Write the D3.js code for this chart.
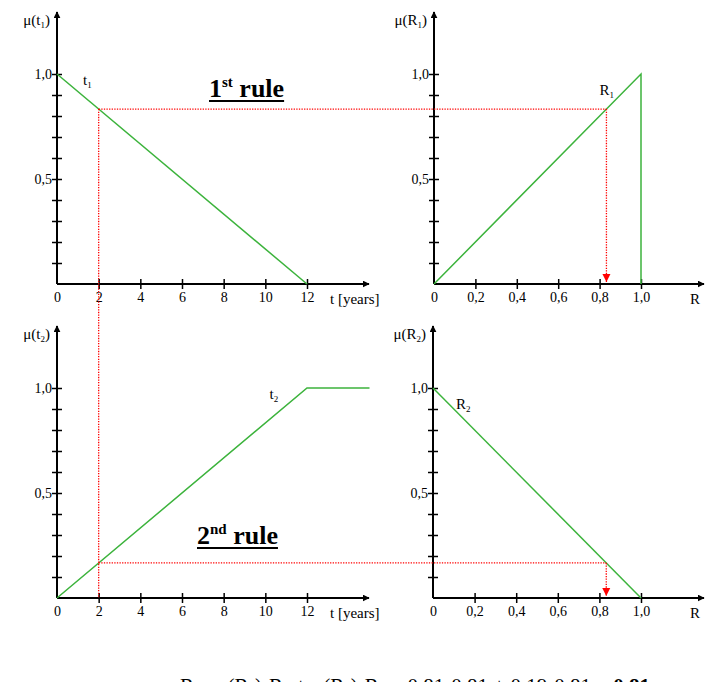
<!DOCTYPE html>
<html>
<head>
<meta charset="utf-8">
<script src="https://cdn.jsdelivr.net/npm/d3@7"></script>
<style>
  body { margin: 0; background: #fff; }
  text { font-family: "Liberation Serif", "Times New Roman", serif; fill: #000; }
</style>
</head>
<body>
<div id="container"></div>
<script>
// fuzzy rule diagram: two rules, t in years -> R

// tick values + labels
var tTicks = [0, 2, 4, 6, 8, 10, 12];
var rTicks = [0, 0.2, 0.4, 0.6, 0.8, 1.0];
var rTickLabels = ["0", "0,2", "0,4", "0,6", "0,8", "1,0"];
var muTicks = [0.1, 0.2, 0.3, 0.4, 0.5, 0.6, 0.7, 0.8, 0.9, 1.0];
var muLabels = {0.5: "0,5", 1.0: "1,0"};

// membership functions (x, mu)
var t1Line = [[0, 1], [12, 0]];
var r1Line = [[0, 0], [1, 1], [1, 0]];
var t2Line = [[0, 0], [12, 1], [15, 1]];
var r2Line = [[0, 1], [1, 0]];

// the evaluated point
var tInput = 2;
var mu1 = 0.833, mu2 = 0.167;
var rOut = 0.833;

var svg = d3.select("#container").append("svg")
    .attr("width", 715)
    .attr("height", 682);

// arrowheads
var defs = svg.append("defs");
defs.append("marker").attr("id", "blk")
    .attr("viewBox", "0 0 10 10").attr("refX", 9).attr("refY", 5)
    .attr("markerWidth", 7).attr("markerHeight", 7).attr("markerUnits", "userSpaceOnUse")
    .attr("orient", "auto")
  .append("path").attr("d", "M0,0L10,5L0,10z").attr("fill", "#000");
defs.append("marker").attr("id", "red")
    .attr("viewBox", "0 0 10 10").attr("refX", 10).attr("refY", 5)
    .attr("markerWidth", 8).attr("markerHeight", 9).attr("markerUnits", "userSpaceOnUse")
    .attr("orient", "auto")
  .append("path").attr("d", "M0,0L10,5L0,10z").attr("fill", "red");

// panels
var panels = [
  {x0: 57, x1: 307, xEnd: 369, y0: 284, y1: 74, yTop: 12, dom: [0, 12], kind: "t", ylab: "1"},
  {x0: 434, x1: 641, xEnd: 704, y0: 284, y1: 74, yTop: 12, dom: [0, 1], kind: "R", ylab: "1"},
  {x0: 57, x1: 307, xEnd: 369, y0: 598, y1: 388, yTop: 326, dom: [0, 12], kind: "t", ylab: "2"},
  {x0: 433, x1: 641, xEnd: 704, y0: 598, y1: 388, yTop: 326, dom: [0, 1], kind: "R", ylab: "2"}
];

panels.forEach(function(p) {
  p.x = d3.scaleLinear().domain(p.dom).range([p.x0, p.x1]);
  p.y = d3.scaleLinear().domain([0, 1]).range([p.y0, p.y1]);

  var g = svg.append("g");

  // x axis
  var xa = d3.axisBottom(p.x)
      .tickValues(p.kind == "t" ? tTicks : rTicks)
      .tickFormat(function(d, i) { return p.kind == "t" ? d : rTickLabels[i]; })
      .tickSize(5).tickSizeOuter(0);
  var gx = g.append("g")
      .attr("transform", "translate(0," + p.y0 + ")")
      .call(xa);
  gx.attr("font-size", 14).attr("font-family", null);
  gx.select(".domain").remove();
  gx.selectAll(".tick line").attr("y1", -5).attr("stroke", "#000").attr("stroke-width", 1.5);
  gx.selectAll(".tick").filter(function(d) { return d == 0; }).select("line").remove();
  gx.selectAll(".tick text")
      .attr("y", 8).attr("dy", "0.71em");

  g.append("line")
      .attr("x1", p.x0).attr("x2", p.xEnd)
      .attr("y1", p.y0).attr("y2", p.y0)
      .attr("stroke", "#000").attr("stroke-width", 2)
      .attr("marker-end", "url(#blk)");

  // y axis
  var ya = d3.axisLeft(p.y)
      .tickValues(muTicks)
      .tickFormat(function(d) { return muLabels[d] || ""; })
      .tickSize(5).tickSizeOuter(0);
  var gy = g.append("g")
      .attr("transform", "translate(" + p.x0 + ",0)")
      .call(ya);
  gy.attr("font-size", 14).attr("font-family", null);
  gy.select(".domain").remove();
  gy.selectAll(".tick line").attr("x2", 5).attr("x1", -5).attr("stroke", "#000").attr("stroke-width", 1.5);
  gy.selectAll(".tick text").attr("x", -5);
  g.append("line")
      .attr("x1", p.x0).attr("x2", p.x0)
      .attr("y1", p.y0).attr("y2", p.yTop)
      .attr("stroke", "#000").attr("stroke-width", 2)
      .attr("marker-end", "url(#blk)");

  // axis titles
  var yt = g.append("text")
      .attr("x", p.x0 - 7).attr("y", p.yTop + 13)
      .attr("text-anchor", "end")
      .style("font-size", "15px");
  yt.append("tspan").text("\u03bc(" + (p.kind == "t" ? "t" : "R"));
  yt.append("tspan").attr("font-size", "9px").attr("dy", 3).text(p.ylab);
  yt.append("tspan").attr("dy", -3).text(")");

  if (p.kind == "t") {
    g.append("text").attr("x", p.xEnd - 39).attr("y", p.y0 + 20)
        .style("font-size", "15px").text("t [years]");
  } else {
    g.append("text").attr("x", p.xEnd - 9).attr("y", p.y0 + 20)
        .attr("text-anchor", "middle")
        .style("font-size", "15px").text("R");
  }
});

var line = function(p) {
  return d3.line().x(function(d) { return p.x(d[0]); }).y(function(d) { return p.y(d[1]); });
};

var green = "#3cb33c";
[[panels[0], t1Line], [panels[1], r1Line], [panels[2], t2Line], [panels[3], r2Line]].forEach(function(a) {
  svg.append("path")
      .attr("d", line(a[0])(a[1]))
      .attr("fill", "none")
      .attr("stroke", green)
      .attr("stroke-width", 1.5);
});

// curve labels
function curveLabel(x, y, base, sub) {
  var t = svg.append("text").attr("x", x).attr("y", y).style("font-size", "15px");
  t.append("tspan").text(base);
  t.append("tspan").attr("font-size", "9px").attr("dy", 3).text(sub);
}
curveLabel(panels[0].x(1.25), panels[0].y(0.95), "t", "1");
curveLabel(panels[1].x(0.8), panels[1].y(0.9), "R", "1");
curveLabel(panels[2].x(10.2), panels[2].y(0.95), "t", "2");
curveLabel(panels[3].x(0.11), panels[3].y(0.9), "R", "2");

// red dotted construction lines
function dotted(x1, y1, x2, y2, arrow) {
  var l = svg.append("line")
      .attr("x1", x1).attr("y1", y1).attr("x2", x2).attr("y2", y2)
      .attr("stroke", "red").attr("stroke-width", 1.3)
      .attr("stroke-dasharray", "1.3,1.3");
  if (arrow) l.attr("marker-end", "url(#red)");
}
var A = panels[0], B = panels[1], C = panels[2], D = panels[3];
dotted(A.x(tInput), A.y(mu1), B.x(rOut), B.y(mu1));
dotted(A.x(tInput), A.y(mu1), C.x(tInput), C.y0);
dotted(B.x(rOut), B.y(mu1), B.x(rOut), B.y0 - 2, true);
dotted(C.x(tInput), C.y(mu2), D.x(rOut), D.y(mu2));
dotted(D.x(rOut), D.y(mu2), D.x(rOut), D.y0 - 2, true);

// rule titles, underlined
function ruleTitle(x, y, num, sup) {
  var t = svg.append("text").attr("x", x).attr("y", y)
      .style("font-size", "26px").style("font-weight", "bold");
  t.append("tspan").text(num);
  t.append("tspan").attr("font-size", "15px").attr("dy", -10).text(sup);
  t.append("tspan").attr("dy", 10).text(" rule");
  var bb = t.node().getBBox();
  svg.append("line").attr("x1", bb.x).attr("x2", bb.x + bb.width)
      .attr("y1", y + 4).attr("y2", y + 4)
      .attr("stroke", "#000").attr("stroke-width", 2);
}
ruleTitle(209, 97, "1", "st");
ruleTitle(197, 544, "2", "nd");

// result formula (cut off at the bottom edge, as in the source)
var f = svg.append("text").attr("x", 180).attr("y", 693).style("font-size", "21px");
f.append("tspan").text("R = \u03bc(R");
f.append("tspan").attr("font-size", "13px").attr("dy", 3).text("1");
f.append("tspan").attr("dy", -3).text(")\u00b7R");
f.append("tspan").attr("font-size", "13px").attr("dy", 3).text("1");
f.append("tspan").attr("dy", -3).text(" + \u03bc(R");
f.append("tspan").attr("font-size", "13px").attr("dy", 3).text("2");
f.append("tspan").attr("dy", -3).text(")\u00b7R");
f.append("tspan").attr("font-size", "13px").attr("dy", 3).text("2");
f.append("tspan").attr("dy", -3).text(" = 0,81\u00b70,81 + 0,19\u00b70,81 = ");
f.append("tspan").style("font-weight", "bold").text("0,81");
</script>
</body>
</html>
